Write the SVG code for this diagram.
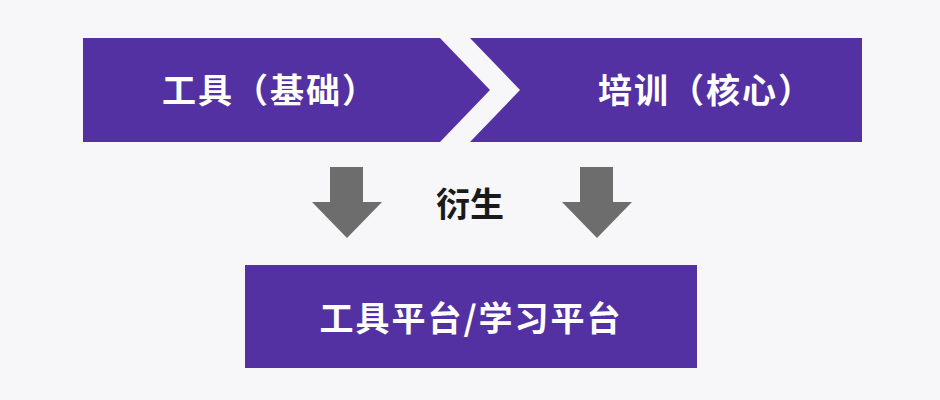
<svg xmlns="http://www.w3.org/2000/svg" width="940" height="400" viewBox="0 0 940 400">
<style>
.box{fill:#5331a3}
.t{fill:#fff;font-family:"Noto Sans CJK SC",sans-serif;font-weight:bold;font-size:34px}
.arr{fill:#6d6d6d}
</style>
<rect width="940" height="400" fill="#f7f7f9"/>
<g id="tool"><polygon class="box" points="83,38 440,38 490,90 440,142 83,142"/><text class="t" x="270" y="103" text-anchor="middle" letter-spacing="2">工具（基础）</text></g>
<g id="train"><polygon class="box" points="470,38 862,38 862,142 470,142 520,90"/><text class="t" x="706" y="103" text-anchor="middle" letter-spacing="2">培训（核心）</text></g>
<g id="platform"><rect class="box" x="245" y="265" width="452" height="103"/><text class="t" x="471" y="331" text-anchor="middle" font-size="37" letter-spacing="2">工具平台/学习平台</text></g>
<g id="connectors">
<polygon class="arr" points="330,167 363,167 363,202 382,202 347,238 312,202 330,202"/>
<polygon class="arr" points="580,167 613,167 613,202 632,202 597,238 562,202 580,202"/>
<text x="470" y="217" text-anchor="middle" font-family="Noto Sans CJK SC,sans-serif" font-weight="bold" font-size="34" fill="#1a1a1a">衍生</text>
</g>
</svg>
